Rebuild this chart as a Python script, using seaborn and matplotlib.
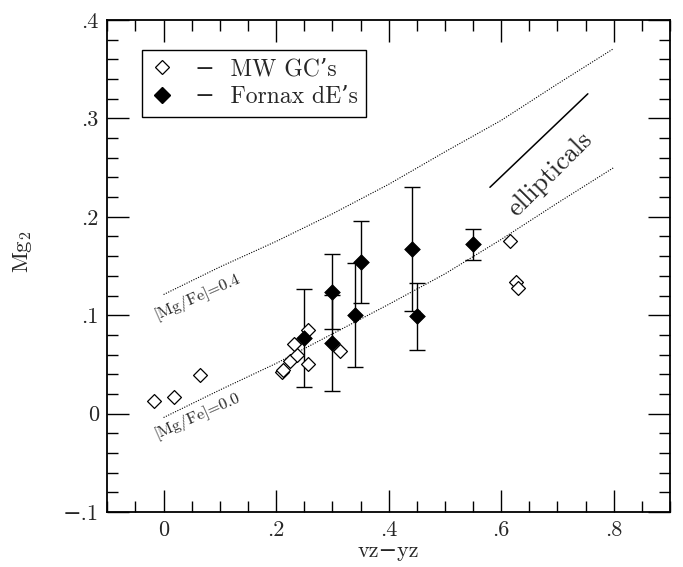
import numpy as np
import pandas as pd
import matplotlib
matplotlib.use("Agg")
import matplotlib.pyplot as plt
import seaborn as sns
from matplotlib.ticker import MultipleLocator, FuncFormatter
from matplotlib.lines import Line2D

# ---------------- data ----------------
gc_x = [-0.017, 0.019, 0.064, 0.210, 0.213, 0.225, 0.237, 0.231, 0.257, 0.257, 0.314, 0.615, 0.627, 0.630]
gc_y = [0.013, 0.017, 0.039, 0.042, 0.044, 0.053, 0.060, 0.071, 0.085, 0.050, 0.064, 0.175, 0.134, 0.128]

de_x = [0.250, 0.300, 0.300, 0.340, 0.350, 0.441, 0.450, 0.550]
de_y = [0.077, 0.124, 0.072, 0.100, 0.154, 0.167, 0.099, 0.172]
de_err = [0.050, 0.038, 0.049, 0.053, 0.042, 0.063, 0.034, 0.016]

model_x = [0.0, 0.1, 0.2, 0.3, 0.4, 0.5, 0.6, 0.7, 0.8]
model_00 = [-0.004, 0.024, 0.051, 0.081, 0.111, 0.142, 0.177, 0.214, 0.250]
model_04 = [0.121, 0.149, 0.175, 0.203, 0.233, 0.266, 0.298, 0.335, 0.371]

ell_x = [0.580, 0.754]
ell_y = [0.230, 0.325]

x_ticks = [0.0, 0.2, 0.4, 0.6, 0.8]
y_ticks = [-0.1, 0.0, 0.1, 0.2, 0.3, 0.4]

# ---------------- style ----------------
sns.set_theme(style="ticks")
plt.rcParams["font.family"] = ["cmr10", "DejaVu Serif"]
plt.rcParams["mathtext.fontset"] = "cm"
plt.rcParams["axes.unicode_minus"] = True
plt.rcParams["axes.formatter.use_mathtext"] = True

fig = plt.figure(figsize=(6.83, 5.67), dpi=100)
ax = fig.add_axes([107.3 / 683, (567 - 512) / 567, (670 - 107.3) / 683, (512 - 20) / 567])

gc_df = pd.DataFrame({"vz_yz": gc_x, "mg2": gc_y})
de_df = pd.DataFrame({"vz_yz": de_x, "mg2": de_y, "err": de_err})

# model lines
sns.lineplot(x=model_x, y=model_00, ax=ax, color="black", lw=0.8,
             linestyle=(0, (1, 1.3)), sort=False, estimator=None)
sns.lineplot(x=model_x, y=model_04, ax=ax, color="black", lw=0.8,
             linestyle=(0, (1, 1.3)), sort=False, estimator=None)
# ellipticals line
sns.lineplot(x=ell_x, y=ell_y, ax=ax, color="black", lw=1.1, sort=False, estimator=None)

# error bars
ax.errorbar(de_df["vz_yz"], de_df["mg2"], yerr=de_df["err"], fmt="none",
            ecolor="black", elinewidth=1.0, capsize=5.8, capthick=1.0, zorder=2)

sns.scatterplot(data=gc_df, x="vz_yz", y="mg2", marker="D", s=50,
                facecolor="white", edgecolor="black", linewidth=0.9,
                ax=ax, legend=False, zorder=3)
sns.scatterplot(data=de_df, x="vz_yz", y="mg2", marker="D", s=64,
                color="black", edgecolor="black", linewidth=0.5,
                ax=ax, legend=False, zorder=4)

# annotations
ax.text(-0.012, -0.025, "[Mg/Fe]=0.0", rotation=24, rotation_mode="anchor",
        ha="left", va="baseline", fontsize=11.8)
ax.text(-0.012, 0.096, "[Mg/Fe]=0.4", rotation=24, rotation_mode="anchor",
        ha="left", va="baseline", fontsize=11.8)
ax.text(0.687, 0.243, "ellipticals", rotation=45, ha="center", va="center", fontsize=19)

# axes
ax.set_xlim(-0.1, 0.9)
ax.set_ylim(-0.1, 0.4)
ax.set_xticks(x_ticks)
ax.set_yticks(y_ticks)
ax.xaxis.set_minor_locator(MultipleLocator(0.05))
ax.yaxis.set_minor_locator(MultipleLocator(0.02))


def fmt(v, pos):
    if abs(v) < 1e-9:
        return "0"
    s = f"{abs(v):.1f}".lstrip("0")
    return ("\u2212" if v < 0 else "") + s


ax.xaxis.set_major_formatter(FuncFormatter(fmt))
ax.yaxis.set_major_formatter(FuncFormatter(fmt))
ax.tick_params(which="both", direction="in", top=True, right=True, color="black",
               labelsize=16, width=1.0)
ax.tick_params(which="major", length=16, pad=6)
ax.tick_params(which="minor", length=8)
for sp in ax.spines.values():
    sp.set_visible(True)
    sp.set_color("black")
    sp.set_linewidth(1.3)

ax.set_xlabel("vz\u2212yz", fontsize=16, labelpad=1)
ax.set_ylabel(r"$\mathrm{Mg}_2$", fontsize=16.5)
ax.yaxis.set_label_coords(-0.13, 0.53)

# legend
handles = [
    Line2D([], [], marker="D", linestyle="none", markersize=7.2, markerfacecolor="white",
           markeredgecolor="black", markeredgewidth=0.9),
    Line2D([], [], marker="D", linestyle="none", markersize=8.2, markerfacecolor="black",
           markeredgecolor="black"),
]
leg = ax.legend(handles, ["\u2212  MW GC\u2019s", "\u2212  Fornax dE\u2019s"],
                loc="upper left", bbox_to_anchor=(0.061, 0.939), borderaxespad=0,
                frameon=True, fancybox=False, edgecolor="black", framealpha=1,
                fontsize=17, handlelength=1.0, handletextpad=0.9,
                borderpad=0.35, labelspacing=0.25)
leg.get_frame().set_linewidth(1.0)

fig.savefig("out.png", dpi=100)
